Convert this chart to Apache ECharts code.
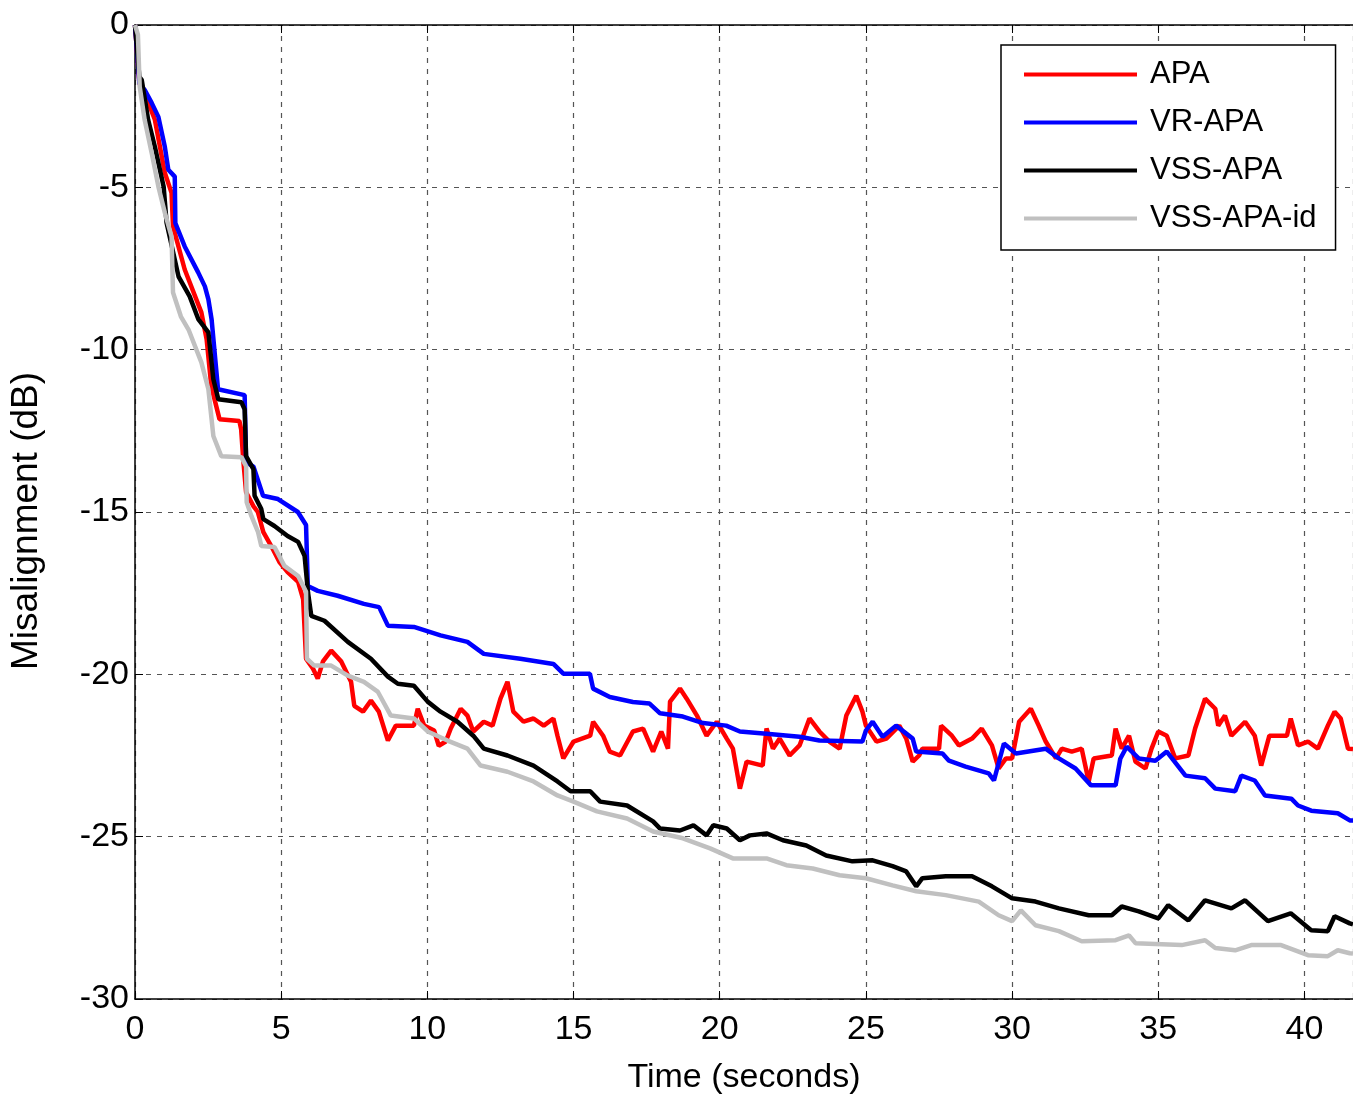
<!DOCTYPE html>
<html>
<head>
<meta charset="utf-8">
<script src="https://cdn.jsdelivr.net/npm/echarts@6/dist/echarts.min.js"></script>
<style>
  html, body { margin: 0; padding: 0; background: #fff; }
  #chart { width: 1353px; height: 1100px; }
</style>
</head>
<body>
<div id="chart"></div>
<script>
  // time (s), misalignment (dB) pairs
  const seriesNames = ['APA', 'VR-APA', 'VSS-APA', 'VSS-APA-id']
  const xTicks = [0, 5, 10, 15, 20, 25, 30, 35, 40]
  const yTicks = [0, -5, -10, -15, -20, -25, -30]

  const apa = [[0,0],[0.15,-1.8],[0.33,-2.1],[0.68,-2.92],[1.02,-4.55],[1.25,-5.17],[1.3,-6.2],[1.7,-7.53],[2.27,-8.85],[2.45,-9.68],[2.61,-11.13],[2.89,-12.14],[3.57,-12.2],[3.63,-12.45],[3.7,-13.37],[3.8,-14.39],[4.05,-14.82],[4.2,-15.0],[4.39,-15.62],[4.66,-16.05],[4.94,-16.54],[5.22,-16.85],[5.58,-17.15],[5.75,-17.68],[5.85,-19.52],[6.09,-19.83],[6.25,-20.13],[6.43,-19.6],[6.71,-19.27],[7.05,-19.6],[7.39,-20.23],[7.5,-20.97],[7.8,-21.15],[8.07,-20.81],[8.34,-21.15],[8.65,-22.04],[8.92,-21.58],[9.54,-21.58],[9.67,-21.06],[9.89,-21.58],[10.23,-21.73],[10.39,-22.2],[10.63,-22.07],[10.8,-21.67],[11.14,-21.06],[11.37,-21.27],[11.57,-21.76],[11.93,-21.46],[12.23,-21.58],[12.5,-20.75],[12.74,-20.23],[12.94,-21.15],[13.29,-21.46],[13.63,-21.36],[13.98,-21.58],[14.31,-21.36],[14.45,-21.89],[14.65,-22.59],[15.0,-22.07],[15.57,-21.89],[15.67,-21.46],[16.01,-21.89],[16.24,-22.38],[16.59,-22.5],[17.03,-21.76],[17.38,-21.67],[17.72,-22.38],[18.0,-21.76],[18.23,-22.29],[18.3,-20.84],[18.64,-20.44],[18.87,-20.75],[19.22,-21.27],[19.55,-21.89],[19.9,-21.46],[20.24,-21.98],[20.45,-22.29],[20.69,-23.52],[20.92,-22.69],[21.47,-22.81],[21.6,-21.67],[21.82,-22.29],[22.05,-21.98],[22.39,-22.5],[22.73,-22.19],[23.07,-21.36],[23.41,-21.76],[23.75,-22.07],[24.1,-22.29],[24.33,-21.27],[24.67,-20.66],[24.88,-21.15],[25.0,-21.58],[25.36,-22.07],[25.7,-21.98],[26.14,-21.58],[26.38,-21.98],[26.6,-22.69],[26.82,-22.5],[26.93,-22.29],[27.5,-22.29],[27.57,-21.58],[27.94,-21.89],[28.18,-22.19],[28.63,-21.98],[28.96,-21.67],[29.31,-22.19],[29.54,-22.9],[29.79,-22.59],[30.0,-22.59],[30.24,-21.46],[30.64,-21.06],[30.91,-21.58],[31.15,-22.07],[31.5,-22.59],[31.7,-22.29],[32.04,-22.38],[32.38,-22.29],[32.62,-23.3],[32.79,-22.59],[33.41,-22.5],[33.54,-21.67],[33.75,-22.29],[34.0,-21.89],[34.22,-22.69],[34.56,-22.9],[34.77,-22.29],[35.0,-21.76],[35.29,-21.89],[35.58,-22.59],[36.03,-22.5],[36.26,-21.67],[36.6,-20.75],[36.95,-21.06],[37.05,-21.58],[37.28,-21.27],[37.5,-21.89],[37.97,-21.46],[38.3,-21.89],[38.52,-22.81],[38.8,-21.89],[39.4,-21.89],[39.53,-21.36],[39.78,-22.19],[40.12,-22.07],[40.46,-22.29],[40.8,-21.58],[41.03,-21.15],[41.24,-21.36],[41.49,-22.29],[41.66,-22.3]]

  const vrApa = [[0,0],[0.15,-1.8],[0.33,-2.0],[0.57,-2.4],[0.8,-2.83],[1.02,-3.75],[1.14,-4.46],[1.36,-4.67],[1.38,-6.1],[1.7,-6.82],[2.16,-7.62],[2.39,-8.05],[2.51,-8.45],[2.62,-9.07],[2.84,-11.22],[3.75,-11.4],[3.8,-13.46],[4.05,-13.6],[4.38,-14.5],[4.89,-14.6],[5.57,-15.0],[5.85,-15.4],[5.91,-17.28],[6.25,-17.43],[6.93,-17.58],[7.83,-17.83],[8.35,-17.93],[8.65,-18.5],[9.54,-18.54],[10.45,-18.8],[11.37,-19.0],[11.93,-19.37],[13.18,-19.52],[14.31,-19.68],[14.65,-19.98],[15.56,-19.98],[15.67,-20.44],[16.24,-20.7],[17.03,-20.85],[17.6,-20.9],[17.96,-21.2],[18.74,-21.3],[19.43,-21.5],[20.22,-21.58],[20.69,-21.76],[21.6,-21.83],[22.73,-21.92],[23.41,-22.04],[24.88,-22.07],[25.0,-21.73],[25.23,-21.46],[25.57,-21.92],[26.03,-21.58],[26.6,-21.98],[26.72,-22.38],[27.62,-22.44],[27.84,-22.66],[28.41,-22.84],[29.2,-23.05],[29.38,-23.27],[29.72,-22.13],[30.13,-22.44],[31.15,-22.29],[31.6,-22.59],[32.17,-22.9],[32.7,-23.42],[33.54,-23.42],[33.7,-22.6],[33.92,-22.23],[34.33,-22.59],[34.9,-22.66],[35.29,-22.38],[35.93,-23.12],[36.6,-23.2],[36.95,-23.52],[37.63,-23.6],[37.84,-23.12],[38.3,-23.27],[38.65,-23.73],[39.55,-23.83],[39.78,-24.04],[40.23,-24.2],[41.14,-24.28],[41.55,-24.5],[41.66,-24.5]]

  const vssApa = [[0,0],[0.15,-1.6],[0.23,-1.69],[0.45,-2.92],[0.68,-3.75],[0.98,-4.98],[1.08,-6.09],[1.49,-7.75],[1.87,-8.36],[2.17,-9.07],[2.51,-9.47],[2.68,-10.91],[2.85,-11.53],[3.64,-11.62],[3.75,-11.84],[3.8,-13.28],[4.05,-13.68],[4.09,-14.5],[4.32,-14.91],[4.39,-15.22],[4.77,-15.43],[5.22,-15.74],[5.58,-15.92],[5.8,-16.35],[5.92,-17.5],[6.03,-18.2],[6.48,-18.35],[7.28,-19.0],[8.07,-19.52],[8.65,-20.07],[8.99,-20.29],[9.54,-20.35],[10.01,-20.84],[10.45,-21.15],[11.03,-21.46],[11.57,-21.89],[11.93,-22.29],[12.74,-22.5],[13.63,-22.81],[14.45,-23.3],[14.9,-23.6],[15.57,-23.6],[15.91,-23.92],[16.83,-24.04],[17.72,-24.53],[17.96,-24.75],[18.64,-24.81],[19.1,-24.65],[19.55,-24.96],[19.78,-24.65],[20.24,-24.75],[20.69,-25.11],[21.03,-24.96],[21.6,-24.9],[22.16,-25.11],[22.96,-25.27],[23.64,-25.58],[24.54,-25.76],[25.23,-25.73],[25.91,-25.91],[26.38,-26.07],[26.72,-26.53],[26.93,-26.28],[27.73,-26.22],[28.63,-26.22],[29.31,-26.53],[30.0,-26.9],[30.8,-27.0],[31.6,-27.21],[32.62,-27.42],[33.41,-27.42],[33.75,-27.15],[34.33,-27.3],[35.0,-27.52],[35.34,-27.11],[36.03,-27.58],[36.6,-26.96],[37.5,-27.21],[37.97,-26.96],[38.75,-27.6],[39.53,-27.36],[40.23,-27.88],[40.8,-27.91],[41.03,-27.45],[41.55,-27.67],[41.66,-27.7]]

  const vssApaId = [[0,0],[0.1,-0.3],[0.16,-1.9],[0.33,-2.92],[0.57,-3.94],[0.8,-4.98],[1.02,-5.78],[1.25,-6.52],[1.3,-8.24],[1.57,-8.98],[1.83,-9.38],[2.27,-10.39],[2.51,-11.22],[2.68,-12.66],[2.95,-13.28],[3.64,-13.31],[3.8,-13.59],[3.82,-14.7],[3.98,-15.12],[4.21,-15.62],[4.32,-16.05],[4.77,-16.08],[5.11,-16.66],[5.58,-16.97],[5.85,-17.46],[5.88,-19.52],[6.13,-19.73],[6.71,-19.73],[7.28,-20.04],[7.83,-20.23],[8.3,-20.53],[8.75,-21.27],[9.54,-21.36],[10.01,-21.76],[10.69,-22.04],[11.37,-22.29],[11.82,-22.81],[12.74,-23.0],[13.63,-23.3],[14.45,-23.73],[15.0,-23.92],[15.8,-24.22],[16.83,-24.44],[17.72,-24.84],[18.74,-25.05],[19.67,-25.36],[20.45,-25.67],[21.6,-25.67],[22.28,-25.88],[23.18,-25.98],[24.1,-26.19],[25.0,-26.28],[25.91,-26.5],[26.72,-26.68],[27.73,-26.8],[28.86,-27.0],[29.54,-27.42],[30.0,-27.6],[30.3,-27.27],[30.8,-27.73],[31.6,-27.91],[32.38,-28.22],[33.54,-28.19],[34.0,-28.04],[34.22,-28.28],[35.8,-28.34],[36.6,-28.19],[36.95,-28.43],[37.63,-28.5],[38.18,-28.34],[39.2,-28.34],[40.12,-28.65],[40.8,-28.68],[41.14,-28.5],[41.55,-28.59],[41.66,-28.6]]

  const colors = ['#ff0000', '#0000ff', '#000000', '#c0c0c0']
  const font = 'Arial, "Liberation Sans", Helvetica, sans-serif'

  const chart = echarts.init(document.getElementById('chart'), null, { renderer: 'canvas' })

  const dashed = { show: true, lineStyle: { color: '#555', width: 1.2, type: [5, 6] } }

  const option = {
    backgroundColor: '#fff',
    animation: false,
    color: colors,
    grid: { left: 134, right: -3, top: 25, bottom: 99 },
    legend: {
      data: seriesNames,
      orient: 'vertical',
      left: 1001,
      top: 45,
      icon: 'rect',
      itemWidth: 113,
      itemHeight: 4,
      itemGap: 17,
      padding: [14, 19, 16, 23],
      backgroundColor: '#fff',
      borderColor: '#000',
      borderWidth: 1.5,
      borderRadius: 0,
      textStyle: { fontFamily: font, fontSize: 31, color: '#000', lineHeight: 30, padding: [0, 0, 0, 8] }
    },
    xAxis: [{
      type: 'value',
      min: 0,
      max: 41.66,
      interval: 5,
      name: 'Time (seconds)',
      nameLocation: 'middle',
      nameGap: 62,
      nameTextStyle: { fontFamily: font, fontSize: 34, color: '#000' },
      axisLine: { show: true, onZero: false, lineStyle: { color: '#000', width: 1.5 } },
      axisTick: { show: true, inside: true, length: 8, lineStyle: { color: '#000' } },
      axisLabel: {
        fontFamily: font, fontSize: 34, color: '#000', margin: 14,
        showMaxLabel: false,
        formatter: v => (xTicks.indexOf(v) >= 0 ? String(v) : '')
      },
      splitLine: dashed
    }, {
      type: 'value',
      position: 'top',
      min: 0,
      max: 41.66,
      interval: 5,
      axisLine: { show: true, lineStyle: { color: '#000', width: 1.5 } },
      axisTick: { show: true, inside: true, length: 8, lineStyle: { color: '#000' } },
      axisLabel: { show: false },
      splitLine: { show: false }
    }],
    yAxis: {
      type: 'value',
      min: -30,
      max: 0,
      interval: 5,
      name: 'Misalignment (dB)',
      nameLocation: 'middle',
      nameGap: 90,
      nameTextStyle: { fontFamily: font, fontSize: 37, color: '#000', padding: [0, 18, 0, 0] },
      axisLine: { show: true, onZero: false, lineStyle: { color: '#000', width: 1.5 } },
      axisTick: { show: true, inside: true, length: 8, lineStyle: { color: '#000' } },
      axisLabel: {
        fontFamily: font, fontSize: 34, color: '#000', margin: 6,
        formatter: v => (yTicks.indexOf(v) >= 0 ? String(v) : '')
      },
      splitLine: dashed
    },
    series: [apa, vrApa, vssApa, vssApaId].map((d, i) => ({
      name: seriesNames[i],
      type: 'line',
      data: d,
      showSymbol: false,
      symbol: 'none',
      lineStyle: { width: 4.5, color: colors[i] },
      itemStyle: { color: colors[i] },
      z: 2 + i
    }))
  }

  chart.setOption(option)
</script>
</body>
</html>
